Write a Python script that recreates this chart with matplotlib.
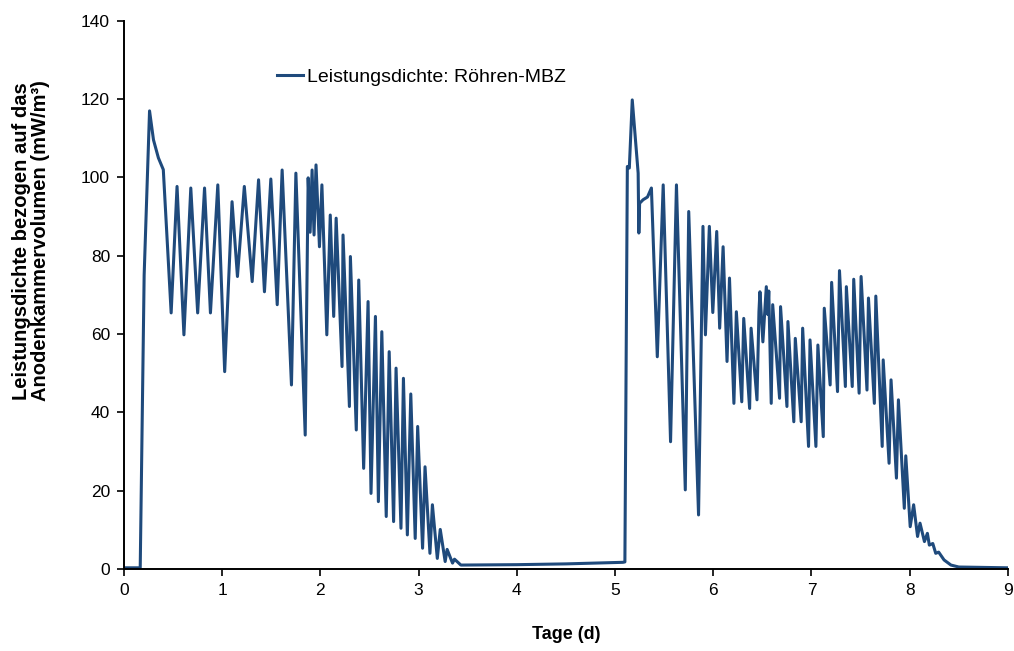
"""Leistungsdichte einer Röhren-MBZ über zwei Batch-Zyklen."""

import matplotlib
matplotlib.use("Agg")
import matplotlib.pyplot as plt

plt.rcParams["font.family"] = ["Liberation Sans", "DejaVu Sans"]

LINE_COLOR = "#1f4a7c"

# turning points (Tage, mW/m³)
cycle1_days = [
    0.0, 0.165, 0.205, 0.26, 0.30, 0.35, 0.40, 0.48, 0.54, 0.61, 0.68, 0.75,
    0.82, 0.88, 0.955, 1.025, 1.10, 1.155, 1.225, 1.305, 1.37, 1.43, 1.495,
    1.56, 1.61, 1.705, 1.75, 1.845, 1.875, 1.895, 1.915, 1.935, 1.955, 1.99,
    2.015, 2.065, 2.10, 2.135, 2.16, 2.22, 2.23, 2.295, 2.305, 2.365, 2.39,
    2.44, 2.485, 2.515, 2.56, 2.59, 2.625, 2.67, 2.70, 2.745, 2.77, 2.82,
    2.845, 2.885, 2.92, 2.965, 2.99, 3.04, 3.065, 3.115, 3.14, 3.19, 3.22,
    3.27, 3.29, 3.345, 3.365, 3.43, 4.0, 4.5, 5.08,
]
cycle1_power = [
    0.3, 0.3, 75.0, 117.0, 109.6, 105.0, 102.0, 65.4, 97.7, 59.8, 97.3, 65.4,
    97.3, 65.4, 98.1, 50.4, 93.8, 74.7, 97.7, 73.4, 99.4, 70.8, 99.6,
    67.5, 101.9, 47.0, 101.1, 34.2, 99.9, 86.0, 101.9, 85.3, 103.2, 82.3,
    98.1, 59.8, 90.4, 64.5, 89.6, 51.7, 85.3, 41.5, 79.8, 35.5, 73.8,
    25.7, 68.3, 19.3, 64.5, 17.2, 60.6, 13.4, 55.5, 12.1, 51.3, 10.4,
    48.7, 8.7, 44.7, 7.8, 36.4, 5.3, 26.1, 4.0, 16.4, 2.7, 10.1,
    1.9, 5.0, 1.5, 2.5, 1.0, 1.1, 1.3, 1.7,
]

cycle2_days = [
    5.10, 5.125, 5.145, 5.175, 5.235, 5.242, 5.25, 5.285, 5.33, 5.37, 5.43,
    5.49, 5.565, 5.625, 5.715, 5.75, 5.85, 5.895, 5.92, 5.96, 5.995, 6.035,
    6.065, 6.10, 6.14, 6.165, 6.21, 6.235, 6.29, 6.31, 6.37, 6.385, 6.445,
    6.465, 6.475, 6.505, 6.54, 6.555, 6.565, 6.59, 6.605, 6.675, 6.685, 6.75,
    6.76, 6.82, 6.835, 6.895, 6.91, 6.97, 6.985, 7.045, 7.065, 7.12, 7.13,
    7.19, 7.205, 7.265, 7.285, 7.345, 7.355, 7.415, 7.43, 7.485, 7.505, 7.565,
    7.58, 7.64, 7.655, 7.72, 7.73, 7.79, 7.81, 7.865, 7.885, 7.945, 7.96,
    8.005, 8.04, 8.08, 8.105, 8.15, 8.18, 8.20, 8.235, 8.265, 8.295, 8.35,
    8.42, 8.50, 9.0,
]
cycle2_power = [
    1.8, 102.8, 102.4, 119.8, 101.1, 85.8, 93.4, 94.3, 95.0, 97.3, 54.2,
    98.1, 32.5, 98.1, 20.2, 91.3, 13.8, 87.5, 59.8, 87.5, 65.5, 86.2,
    61.5, 82.3, 53.0, 74.3, 42.3, 65.7, 42.7, 64.0, 41.0, 61.5, 43.2,
    65.7, 70.8, 58.0, 72.1, 65.0, 71.0, 42.3, 67.5, 43.6, 67.0, 41.5,
    63.2, 37.6, 58.9, 37.6, 61.5, 31.3, 58.5, 31.3, 57.2, 33.8, 66.6,
    47.0, 73.2, 45.3, 76.2, 46.6, 72.1, 46.6, 74.0, 44.9, 74.7, 45.7,
    69.2, 42.3, 69.7, 31.3, 53.4, 27.0, 48.3, 23.2, 43.2, 15.5, 28.9,
    10.8, 16.4, 8.3, 11.7, 7.0, 9.1, 6.1, 6.5, 4.0, 4.3, 2.3,
    1.0, 0.5, 0.3,
]

x_ticks = list(range(0, 10))
y_ticks = list(range(0, 141, 20))

fig = plt.figure(figsize=(10.14, 6.51), dpi=100)
ax = fig.add_axes([0.1223, 0.126, 0.8717, 0.842])

ax.plot(cycle1_days + cycle2_days, cycle1_power + cycle2_power,
        color=LINE_COLOR, linewidth=2.2, solid_joinstyle="round",
        label="Leistungsdichte: Röhren-MBZ")

ax.set_xlim(0, 9)
ax.set_ylim(0, 140)
ax.set_xticks(x_ticks)
ax.set_yticks(y_ticks)
ax.tick_params(direction="out", length=5, width=1.2, labelsize=12.5,
               colors="black", pad=5)
for side in ("top", "right"):
    ax.spines[side].set_visible(False)
for side in ("left", "bottom"):
    ax.spines[side].set_linewidth(1.4)
    ax.spines[side].set_color("black")

ax.set_xlabel("Tage (d)", fontsize=13, fontweight="bold", labelpad=20)
fig.text(0.031, 0.63,
         "Leistungsdichte bezogen auf das\nAnodenkammervolumen (mW/m³)",
         rotation=90, ha="center", va="center", fontsize=14.5,
         fontweight="bold", linespacing=1.0)

ax.legend(loc="center left", bbox_to_anchor=(0.173, 0.898), frameon=False,
          fontsize=14, handlelength=1.35, handletextpad=0.2,
          borderaxespad=0, borderpad=0)

fig.savefig("out.png", dpi=100, facecolor="white")
